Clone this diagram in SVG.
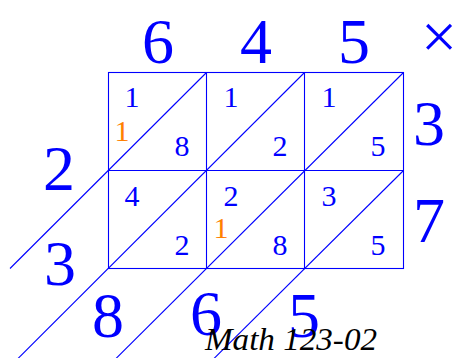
<svg xmlns="http://www.w3.org/2000/svg" width="456" height="358" viewBox="0 0 456 358">
<style>
.ln{stroke:#0000ff;stroke-width:1.1;fill:none}
.big{font-family:"Liberation Serif",serif;font-size:64px;fill:#0000ff;text-anchor:middle}
.sm{font-family:"Liberation Serif",serif;font-size:30px;fill:#0000ff;text-anchor:middle}
.car{font-family:"Liberation Serif",serif;font-size:30px;fill:#ff8000;text-anchor:middle}
.ttl{font-family:"Liberation Serif",serif;font-style:italic;font-size:31px;fill:#000}
</style>
<g id="connectors">
<rect class="ln" x="108.5" y="72.5" width="295" height="196"/>
<line class="ln" x1="206.5" y1="72.5" x2="206.5" y2="268.5"/>
<line class="ln" x1="304.5" y1="72.5" x2="304.5" y2="268.5"/>
<line class="ln" x1="108.5" y1="170.5" x2="403.5" y2="170.5"/>
<line class="ln" x1="10" y1="268.5" x2="206.5" y2="72.5"/>
<line class="ln" x1="18" y1="358.5" x2="304.5" y2="72.5"/>
<line class="ln" x1="116" y1="358.5" x2="403.5" y2="72.5"/>
<line class="ln" x1="214" y1="358.5" x2="403.5" y2="170.5"/>
</g>
<g id="top">
<text class="big" x="158" y="63">6</text>
<text class="big" x="256" y="63">4</text>
<text class="big" x="354" y="63">5</text>
<text class="big" x="439" y="58">×</text>
</g>
<g id="right">
<text class="big" x="429" y="145">3</text>
<text class="big" x="429" y="242">7</text>
</g>
<g id="left">
<text class="big" x="59" y="190">2</text>
<text class="big" x="60" y="285">3</text>
</g>
<g id="bottom">
<text class="big" x="108" y="337">8</text>
<text class="big" x="206" y="335">6</text>
<text class="big" x="304" y="337">5</text>
</g>
<g id="cell-0-0"><text class="sm" x="132" y="107">1</text><text class="car" x="122" y="141">1</text><text class="sm" x="182" y="156">8</text></g>
<g id="cell-0-1"><text class="sm" x="231" y="107">1</text><text class="sm" x="280" y="156">2</text></g>
<g id="cell-0-2"><text class="sm" x="329" y="107">1</text><text class="sm" x="378" y="156">5</text></g>
<g id="cell-1-0"><text class="sm" x="132" y="206">4</text><text class="sm" x="182" y="255">2</text></g>
<g id="cell-1-1"><text class="sm" x="231" y="206">2</text><text class="car" x="221" y="238">1</text><text class="sm" x="280" y="255">8</text></g>
<g id="cell-1-2"><text class="sm" x="329" y="206">3</text><text class="sm" x="378" y="255">5</text></g>
<g id="title"><text class="ttl" x="205" y="350" textLength="172" lengthAdjust="spacingAndGlyphs">Math 123-02</text></g>
</svg>
